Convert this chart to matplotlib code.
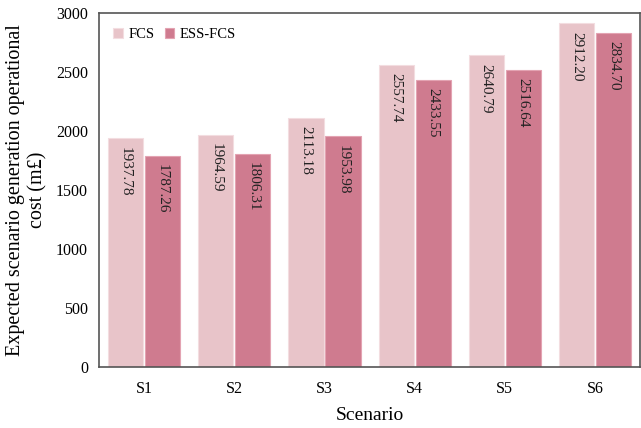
import numpy as np
import matplotlib.pyplot as plt

scenarios = ['S1', 'S2', 'S3', 'S4', 'S5', 'S6']
fcs = [1937.78, 1964.59, 2113.18, 2557.74, 2640.79, 2912.20]
ess_fcs = [1787.26, 1806.31, 1953.98, 2433.55, 2516.64, 2834.70]

plt.rcParams['font.family'] = ['Liberation Serif', 'DejaVu Serif']

fig = plt.figure(figsize=(6.41, 4.28), dpi=100)
ax = fig.add_axes([0.1545, 0.1425, 0.844, 0.827])

x = np.arange(len(scenarios))
w = 0.39
b1 = ax.bar(x - 0.205, fcs, w, color='#E8C4C9', edgecolor='#F3DDE0', linewidth=0.8, label='FCS')
b2 = ax.bar(x + 0.205, ess_fcs, w, color='#CF7B8F', edgecolor='#E3A3B2', linewidth=0.8, label='ESS-FCS')

# value labels written downward inside the top of each bar
for bars, vals in [(b1, fcs), (b2, ess_fcs)]:
    for bar, v in zip(bars, vals):
        ax.text(bar.get_x() + bar.get_width() / 2, v - 70, f'{v:.2f}',
                rotation=-90, ha='center', va='top', fontsize=11, color='#222222')

ax.set_xlim(-0.5, 5.5)
ax.set_ylim(0, 3000)
ax.set_xticks(x)
ax.set_xticklabels(scenarios, fontsize=11.5)
ax.set_yticks(range(0, 3001, 500))
ax.tick_params(axis='y', labelsize=11.5, length=0, pad=8)
ax.tick_params(axis='x', length=0, pad=10)
for s in ax.spines.values():
    s.set_color('#555555')
    s.set_linewidth(1.2)

ax.set_xlabel('Scenario', fontsize=14, labelpad=7)
ax.set_ylabel('Expected scenario generation operational\ncost (m£)', fontsize=14.5, labelpad=6)

ax.legend(loc='upper left', ncol=2, frameon=False, fontsize=10.5, handlelength=0.65,
          handleheight=0.65, handletextpad=0.4, columnspacing=0.7,
          borderaxespad=0, borderpad=0, bbox_to_anchor=(0.026, 0.958))

fig.savefig('out.png', dpi=100)
